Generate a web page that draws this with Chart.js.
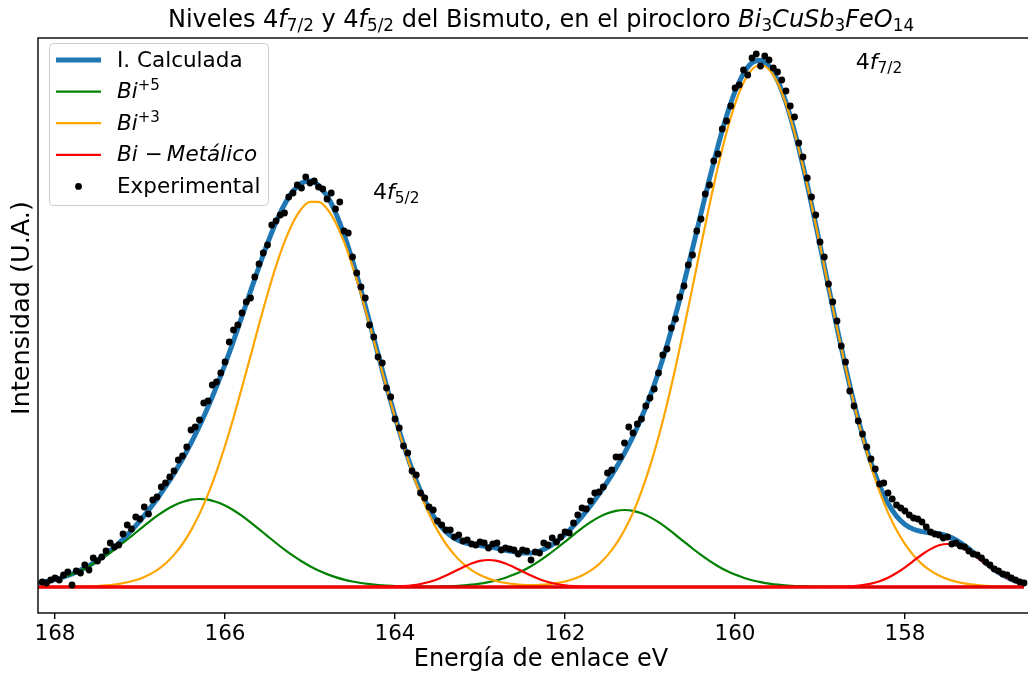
<!DOCTYPE html>
<html lang="es">
<head>
<meta charset="utf-8">
<title>Niveles 4f del Bismuto</title>
<script src="https://cdn.jsdelivr.net/npm/chart.js@4.4.1/dist/chart.umd.min.js"></script>
<style>
  html, body { margin: 0; padding: 0; background: #fff; overflow: hidden; }
  #grafico { display: block; }
</style>
</head>
<body>
<canvas id="grafico" width="1044" height="680"></canvas>
<script>
// Rejilla de energías (eV) para las curvas del ajuste
const energia = [
  168.2, 168.1, 168.0, 167.9, 167.8, 167.7, 167.6, 167.5, 167.4, 167.3,
  167.2, 167.1, 167.0, 166.9, 166.8, 166.7, 166.6, 166.5, 166.4, 166.3,
  166.2, 166.1, 166.0, 165.9, 165.8, 165.7, 165.6, 165.5, 165.4, 165.3,
  165.2, 165.1, 165.0, 164.9, 164.8, 164.7, 164.6, 164.5, 164.4, 164.3,
  164.2, 164.1, 164.0, 163.9, 163.8, 163.7, 163.6, 163.5, 163.4, 163.3,
  163.2, 163.1, 163.0, 162.9, 162.8, 162.7, 162.6, 162.5, 162.4, 162.3,
  162.2, 162.1, 162.0, 161.9, 161.8, 161.7, 161.6, 161.5, 161.4, 161.3,
  161.2, 161.1, 161.0, 160.9, 160.8, 160.7, 160.6, 160.5, 160.4, 160.3,
  160.2, 160.1, 160.0, 159.9, 159.8, 159.7, 159.6, 159.5, 159.4, 159.3,
  159.2, 159.1, 159.0, 158.9, 158.8, 158.7, 158.6, 158.5, 158.4, 158.3,
  158.2, 158.1, 158.0, 157.9, 157.8, 157.7, 157.6, 157.5, 157.4, 157.3,
  157.2, 157.1, 157.0, 156.9, 156.8, 156.7, 156.6
];

// Componente Bi+5 (verde)
const bi5 = [
  4.0, 5.5, 7.4, 9.9, 12.9, 16.5, 20.8, 25.7, 31.3, 37.4,
  44.0, 50.9, 57.9, 64.7, 71.1, 76.8, 81.5, 85.0, 87.3, 88.0,
  87.3, 85.0, 81.5, 76.8, 71.1, 64.7, 57.9, 50.9, 44.0, 37.4,
  31.3, 25.7, 20.8, 16.5, 12.9, 9.9, 7.4, 5.5, 4.0, 2.9,
  2.0, 1.4, 1.0, 0.6, 0.5, 0.5, 0.5, 0.5, 0.7, 1.0,
  1.6, 2.3, 3.4, 4.8, 6.8, 9.3, 12.4, 16.2, 20.8, 26.1,
  32.1, 38.5, 45.3, 52.2, 58.8, 64.8, 69.9, 73.7, 76.2, 77.0,
  76.2, 73.7, 69.9, 64.8, 58.8, 52.2, 45.3, 38.5, 32.1, 26.1,
  20.8, 16.2, 12.4, 9.3, 6.8, 4.8, 3.4, 2.3, 1.6, 1.0,
  0.7, 0.4, 0.3, 0.2, 0.1, 0, 0, 0, 0, 0,
  0, 0, 0, 0, 0, 0, 0, 0, 0, 0,
  0, 0, 0, 0, 0, 0, 0
];

// Componente Bi+3 (naranja)
const bi3 = [
  0, 0, 0.1, 0.1, 0.2, 0.4, 0.6, 1.0, 1.6, 2.5,
  3.8, 5.7, 8.3, 12.0, 16.9, 23.5, 32.1, 43.0, 56.6, 73.1,
  92.6, 115.4, 141.0, 169.3, 199.6, 230.9, 262.4, 292.8, 320.8, 345.1,
  364.6, 378.2, 385.1, 385.1, 378.2, 364.6, 345.1, 320.8, 292.8, 262.4,
  230.9, 199.6, 169.3, 141.0, 115.4, 92.6, 73.1, 56.6, 43.0, 32.1,
  23.5, 16.9, 12.0, 8.4, 5.8, 4.0, 2.9, 2.2, 1.9, 2.1,
  2.7, 3.8, 5.5, 8.0, 11.5, 16.3, 22.9, 31.6, 42.8, 56.9,
  74.4, 95.7, 120.8, 150.0, 183.1, 219.6, 258.9, 299.9, 341.5, 382.2,
  420.4, 454.5, 482.9, 504.3, 517.5, 522.0, 517.5, 504.3, 482.9, 454.5,
  420.4, 382.2, 341.5, 299.9, 258.9, 219.6, 183.1, 150.0, 120.8, 95.7,
  74.4, 56.9, 42.8, 31.6, 22.9, 16.3, 11.5, 7.9, 5.4, 3.6,
  2.3, 1.5, 0.9, 0.6, 0.4, 0.2, 0.1
];

// Componente Bi metálico (rojo)
const biMetalico = [
  0, 0, 0, 0, 0, 0, 0, 0, 0, 0,
  0, 0, 0, 0, 0, 0, 0, 0, 0, 0,
  0, 0, 0, 0, 0, 0, 0, 0, 0, 0,
  0, 0, 0, 0, 0, 0, 0, 0, 0, 0,
  0.1, 0.2, 0.4, 0.9, 1.7, 3.0, 5.0, 7.8, 11.4, 15.6,
  19.8, 23.5, 26.1, 27.0, 26.1, 23.5, 19.8, 15.6, 11.4, 7.8,
  5.0, 3.0, 1.7, 0.9, 0.4, 0.2, 0.1, 0, 0, 0,
  0, 0, 0, 0, 0, 0, 0, 0, 0, 0,
  0, 0, 0, 0, 0, 0, 0, 0, 0, 0,
  0, 0, 0, 0.1, 0.2, 0.5, 1.0, 1.9, 3.4, 5.8,
  9.3, 14.0, 19.7, 26.1, 32.5, 37.9, 41.7, 43.0, 41.7, 37.9,
  32.5, 26.1, 19.7, 14.0, 9.3, 5.8, 3.4
];

// Intensidad calculada (suma del ajuste, azul)
const calculada = [
  4.0, 5.5, 7.5, 10.0, 13.1, 16.9, 21.4, 26.7, 32.9, 39.9,
  47.8, 56.6, 66.2, 76.7, 88.0, 100.3, 113.6, 128.0, 143.9, 161.1,
  179.9, 200.4, 222.5, 246.1, 270.7, 295.6, 320.3, 343.7, 364.8, 382.5,
  395.9, 403.9, 405.9, 401.6, 391.1, 374.5, 352.5, 326.3, 296.8, 265.3,
  233.0, 201.2, 170.7, 142.5, 117.6, 96.1, 78.6, 64.9, 55.1, 48.7,
  44.9, 42.7, 41.5, 40.2, 38.7, 36.8, 35.1, 34.0, 34.1, 36.0,
  39.8, 45.3, 52.5, 61.1, 70.7, 81.3, 92.9, 105.3, 119.0, 133.9,
  150.6, 169.4, 190.7, 214.8, 241.9, 271.8, 304.2, 338.4, 373.6, 408.3,
  441.2, 470.7, 495.3, 513.6, 524.3, 526.8, 520.9, 506.6, 484.5, 455.5,
  421.1, 382.6, 341.8, 300.2, 259.2, 220.1, 184.1, 151.9, 124.2, 101.5,
  83.7, 70.9, 62.5, 57.7, 55.4, 54.2, 53.2, 50.9, 47.1, 41.5,
  34.8, 27.6, 20.6, 14.6, 9.7, 6.0, 3.5
];

// Línea base del ajuste
const energiaBase = [168.2, 156.6];
const lineaBase = [0, 0];

// Puntos experimentales
const energiaExp = [
  168.15, 168.10, 168.05, 168.00, 167.95, 167.90, 167.85, 167.80, 167.75, 167.70,
  167.65, 167.60, 167.55, 167.50, 167.45, 167.40, 167.35, 167.30, 167.25, 167.20,
  167.15, 167.10, 167.05, 167.00, 166.95, 166.90, 166.85, 166.80, 166.75, 166.70,
  166.65, 166.60, 166.55, 166.50, 166.45, 166.40, 166.35, 166.30, 166.25, 166.20,
  166.15, 166.10, 166.05, 166.00, 165.95, 165.90, 165.85, 165.80, 165.75, 165.70,
  165.65, 165.60, 165.55, 165.50, 165.45, 165.40, 165.35, 165.30, 165.25, 165.20,
  165.15, 165.10, 165.05, 165.00, 164.95, 164.90, 164.85, 164.80, 164.75, 164.70,
  164.65, 164.60, 164.55, 164.50, 164.45, 164.40, 164.35, 164.30, 164.25, 164.20,
  164.15, 164.10, 164.05, 164.00, 163.95, 163.90, 163.85, 163.80, 163.75, 163.70,
  163.65, 163.60, 163.55, 163.50, 163.45, 163.40, 163.35, 163.30, 163.25, 163.20,
  163.15, 163.10, 163.05, 163.00, 162.95, 162.90, 162.85, 162.80, 162.75, 162.70,
  162.65, 162.60, 162.55, 162.50, 162.45, 162.40, 162.35, 162.30, 162.25, 162.20,
  162.15, 162.10, 162.05, 162.00, 161.95, 161.90, 161.85, 161.80, 161.75, 161.70,
  161.65, 161.60, 161.55, 161.50, 161.45, 161.40, 161.35, 161.30, 161.25, 161.20,
  161.15, 161.10, 161.05, 161.00, 160.95, 160.90, 160.85, 160.80, 160.75, 160.70,
  160.65, 160.60, 160.55, 160.50, 160.45, 160.40, 160.35, 160.30, 160.25, 160.20,
  160.15, 160.10, 160.05, 160.00, 159.95, 159.90, 159.85, 159.80, 159.75, 159.70,
  159.65, 159.60, 159.55, 159.50, 159.45, 159.40, 159.35, 159.30, 159.25, 159.20,
  159.15, 159.10, 159.05, 159.00, 158.95, 158.90, 158.85, 158.80, 158.75, 158.70,
  158.65, 158.60, 158.55, 158.50, 158.45, 158.40, 158.35, 158.30, 158.25, 158.20,
  158.15, 158.10, 158.05, 158.00, 157.95, 157.90, 157.85, 157.80, 157.75, 157.70,
  157.65, 157.60, 157.55, 157.50, 157.45, 157.40, 157.35, 157.30, 157.25, 157.20,
  157.15, 157.10, 157.05, 157.00, 156.95, 156.90, 156.85, 156.80, 156.75, 156.70,
  156.65, 156.60
];
const intensidadExp = [
  5, 4, 7, 9, 7, 12, 15, 2, 16, 14,
  22, 17, 29, 26, 30, 36, 44, 40, 42, 53,
  62, 58, 70, 68, 80, 73, 87, 90, 100, 104,
  110, 116, 127, 131, 140, 157, 160, 167, 184, 186,
  202, 205, 214, 225, 245, 257, 262, 274, 285, 289,
  310, 323, 334, 342, 362, 366, 372, 374, 390, 394,
  402, 399, 410, 404, 406, 400, 398, 388, 394, 378,
  385, 356, 354, 330, 314, 300, 289, 262, 250, 230,
  224, 199, 190, 168, 159, 141, 134, 116, 112, 94,
  89, 80, 77, 66, 62, 57, 57, 50, 52, 46,
  47, 43, 42, 45, 44, 39, 43, 44, 37, 39,
  38, 37, 33, 37, 36, 27, 35, 34, 44, 42,
  49, 45, 50, 55, 54, 64, 72, 79, 78, 86,
  94, 95, 100, 114, 117, 130, 130, 144, 160, 154,
  163, 168, 181, 189, 198, 214, 232, 238, 259, 268,
  290, 301, 322, 332, 356, 368, 393, 402, 426, 433,
  458, 466, 481, 499, 502, 517, 512, 529, 533, 521,
  531, 527, 519, 515, 507, 496, 481, 470, 444, 430,
  409, 390, 372, 345, 330, 303, 285, 266, 241, 225,
  196, 181, 166, 153, 140, 128, 118, 103, 104, 94,
  88, 82, 79, 76, 72, 69, 68, 65, 60, 55,
  53, 52, 49, 50, 43, 44, 41, 40, 36, 33,
  32, 29, 25, 22, 18, 16, 13, 12, 9, 7,
  5, 4
];

const marcasX = [168, 166, 164, 162, 160, 158];

// Textos con sub/superíndices: [texto, estilo]
const titulo = [
  ['Niveles 4', 'n'], ['f', 'i'], ['7/2', 'sub'], [' y 4', 'n'], ['f', 'i'], ['5/2', 'sub'],
  [' del Bismuto, en el pirocloro ', 'n'], ['Bi', 'i'], ['3', 'sub'], ['CuSb', 'i'], ['3', 'sub'],
  ['FeO', 'i'], ['14', 'sub']
];
const tituloY = 'Intensidad (U.A.)';
const anotaciones = [
  {x: 164.26, y: 388, partes: [['4', 'n'], ['f', 'i'], ['5/2', 'sub']]},
  {x: 158.58, y: 518, partes: [['4', 'n'], ['f', 'i'], ['7/2', 'sub']]}
];
const leyenda = [
  {partes: [['I. Calculada', 'n']], color: '#1f77b4', grosor: 5},
  {partes: [['Bi', 'i'], ['+5', 'sup']], color: 'green', grosor: 2.2},
  {partes: [['Bi', 'i'], ['+3', 'sup']], color: 'orange', grosor: 2.2},
  {partes: [['Bi', 'i'], [' \u2212\u2009', 'n'], ['Metálico', 'i']], color: 'red', grosor: 2.2},
  {partes: [['Experimental', 'n']], color: '#000', punto: true}
];

const FAMILIA = '"DejaVu Sans"';
const fuente = (tam, italica) => `${italica ? 'italic ' : ''}${tam}px ${FAMILIA}`;

function dibujarRico(ctx, partes, x, y, tam, alinear = 'left') {
  const medidas = partes.map(([t, e]) => {
    const t2 = (e === 'sub' || e === 'sup') ? tam * 0.7 : tam;
    ctx.font = fuente(t2, e === 'i');
    return {t, e, tam: t2, ancho: ctx.measureText(t).width};
  });
  const total = medidas.reduce((s, m) => s + m.ancho, 0);
  let cx = alinear === 'center' ? x - total / 2 : x;
  ctx.textAlign = 'left';
  ctx.textBaseline = 'alphabetic';
  ctx.fillStyle = '#000';
  medidas.forEach(m => {
    ctx.font = fuente(m.tam, m.e === 'i');
    const dy = m.e === 'sub' ? tam * 0.17 : (m.e === 'sup' ? -tam * 0.36 : 0);
    ctx.fillText(m.t, cx, y + dy);
    cx += m.ancho;
  });
}

const decoracion = {
  id: 'decoracion',
  afterDatasetsDraw(chart) {
    const {ctx, chartArea: a, scales: {x, y}} = chart;
    ctx.save();

    // marco de los ejes
    ctx.strokeStyle = '#000';
    ctx.lineWidth = 1.4;
    ctx.strokeRect(a.left, a.top, a.right - a.left, a.bottom - a.top);

    // etiquetas de los picos
    anotaciones.forEach(n => {
      dibujarRico(ctx, n.partes, x.getPixelForValue(n.x), y.getPixelForValue(n.y), 22);
    });

    // leyenda
    ctx.beginPath();
    ctx.roundRect(49.5, 43.5, 219, 162, 4);
    ctx.fillStyle = 'rgba(255,255,255,0.8)';
    ctx.fill();
    ctx.strokeStyle = '#cccccc';
    ctx.lineWidth = 1;
    ctx.stroke();
    leyenda.forEach((item, i) => {
      const fy = 60 + i * 31.6;
      if (item.punto) {
        ctx.beginPath();
        ctx.arc(78.5, fy, 3.4, 0, Math.PI * 2);
        ctx.fillStyle = item.color;
        ctx.fill();
      } else {
        ctx.beginPath();
        ctx.moveTo(56, fy);
        ctx.lineTo(101, fy);
        ctx.strokeStyle = item.color;
        ctx.lineWidth = item.grosor;
        ctx.stroke();
      }
      dibujarRico(ctx, item.partes, 117, fy + 6.5, 21.5);
    });

    // título
    dibujarRico(ctx, titulo, (a.left + a.right) / 2, 27, 24, 'center');

    // etiqueta del eje vertical
    ctx.save();
    ctx.translate(29, 308);
    ctx.rotate(-Math.PI / 2);
    ctx.font = fuente(25.5, false);
    ctx.textAlign = 'center';
    ctx.textBaseline = 'alphabetic';
    ctx.fillStyle = '#000';
    ctx.fillText(tituloY, 0, 0);
    ctx.restore();

    ctx.restore();
  }
};

const puntos = (xs, ys) => xs.map((x, i) => ({x, y: ys[i]}));
const curva = (etiqueta, xs, valores, color, grosor, orden) => ({
  label: etiqueta,
  data: puntos(xs, valores),
  borderColor: color,
  borderWidth: grosor,
  pointRadius: 0,
  fill: false,
  cubicInterpolationMode: 'monotone',
  borderJoinStyle: 'round',
  order: orden
});

Chart.defaults.font.family = FAMILIA;
Chart.defaults.color = '#000';

new Chart(document.getElementById('grafico'), {
  type: 'line',
  data: {
    datasets: [
      {
        label: 'Experimental',
        data: puntos(energiaExp, intensidadExp),
        showLine: false,
        pointRadius: 3.4,
        pointBackgroundColor: '#000',
        pointBorderWidth: 0,
        order: 0
      },
      curva('Bi-Metálico', energia, biMetalico, '#ff0000', 2.2, 1),
      curva('Base', energiaBase, lineaBase, '#e00000', 3.4, 1.5),
      curva('Bi+3', energia, bi3, '#ffa500', 2.2, 2),
      curva('Bi+5', energia, bi5, '#008000', 2.2, 3),
      curva('I. Calculada', energia, calculada, '#1f77b4', 5, 4)
    ]
  },
  options: {
    responsive: false,
    animation: false,
    devicePixelRatio: 1,
    layout: {padding: {top: 38, left: 0, right: 0, bottom: 0}, autoPadding: false},
    plugins: {
      legend: {display: false},
      tooltip: {enabled: false},
      title: {display: false}
    },
    scales: {
      x: {
        type: 'linear',
        reverse: true,
        min: 156.365,
        max: 168.2,
        afterBuildTicks: (eje) => { eje.ticks = marcasX.map(v => ({value: v})); },
        afterFit: (eje) => { eje.height = 67; },
        grid: {drawOnChartArea: false, drawTicks: true, tickLength: 6, color: '#000', lineWidth: 1.4},
        border: {display: false},
        ticks: {
          color: '#000',
          font: {size: 21.5},
          padding: 3,
          maxRotation: 0,
          autoSkip: false,
          callback: (v) => String(v)
        },
        title: {
          display: true,
          text: 'Energía de enlace eV',
          color: '#000',
          font: {size: 24},
          padding: {top: 0, bottom: 6}
        }
      },
      y: {
        type: 'linear',
        min: -26,
        max: 549,
        afterFit: (eje) => { eje.width = 38; },
        grid: {display: false},
        border: {display: false},
        ticks: {display: false},
        title: {display: false}
      }
    }
  },
  plugins: [decoracion]
});
</script>
</body>
</html>
